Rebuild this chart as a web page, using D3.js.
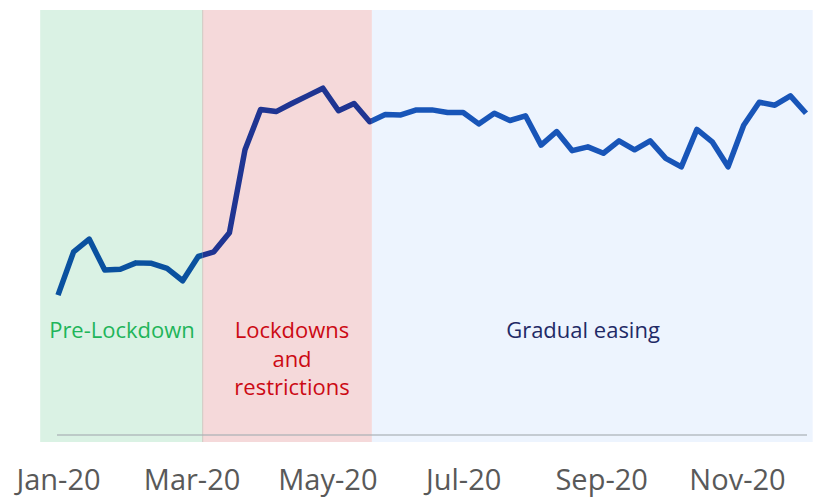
<!DOCTYPE html>
<html>
<head>
<meta charset="utf-8">
<script src="https://cdn.jsdelivr.net/npm/d3@7"></script>
<style>
  body { margin: 0; background: #fff; }
  svg { display: block; font-family: "Open Sans", "Noto Sans", sans-serif; }
</style>
</head>
<body>
<script>
// DATA //
// weekly index values, first week starting 1 Jan 2020
const firstWeek = '2020-01-01';
const values = [32.9, 43.1, 46.1, 38.8, 39.0, 40.5, 40.4, 39.2, 36.3, 42.0,
    43.1, 47.6, 67.1, 76.6, 76.1, 78.0, 79.8, 81.6, 76.3, 78.0,
    73.7, 75.4, 75.3, 76.5, 76.5, 75.9, 75.9, 73.2, 75.7, 74.0,
    75.1, 68.2, 71.4, 66.9, 67.8, 66.3, 69.2, 67.1, 69.2, 65.1,
    63.1, 71.9, 68.9, 63.1, 72.9, 78.3, 77.6, 79.8, 75.7];

// phases (shaded bands)
const phaseNames = ['Pre-Lockdown', 'Lockdowns\nand\nrestrictions', 'Gradual easing'];
const phaseStarts = ['2019-12-24', '2020-03-06', '2020-05-21'];
const phaseEnds = ['2020-03-06', '2020-05-21', '2020-12-05'];

// tick labels
const tickDates = ['2020-01-01', '2020-03-01', '2020-05-01', '2020-07-01', '2020-09-01', '2020-11-01'];

// STYLE //
const bandColors = ['#daf2e4', '#f5d9da', '#edf4fe'];
const textColors = ['#1fb55a', '#cc0a14', '#1f2a66'];
const lineColors = ['#0a519f', '#1f3592', '#1855b8'];

const width = 817,
    height = 497;

const parse = d3.utcParse('%Y-%m-%d');
const start = parse(firstWeek);
const data = values.map((v, i) => ({ date: d3.utcDay.offset(start, 7 * i), value: v }));

const x = d3.scaleUtc()
    .domain(d3.extent(data, d => d.date))
    .range([58, 806]);

const y = d3.scaleLinear()
    .domain([0, 100])
    .range([435, 10]);

const svg = d3.select('body')
    .append('svg')
    .attr('width', width)
    .attr('height', height);

const phases = phaseNames.map((n, i) => ({
    name: n,
    start: parse(phaseStarts[i]),
    end: parse(phaseEnds[i]),
    band: bandColors[i],
    text: textColors[i],
    line: lineColors[i]
}));

// bands
svg.append('g')
    .selectAll('rect')
    .data(phases)
    .join('rect')
    .attr('x', d => x(d.start))
    .attr('y', 10)
    .attr('width', d => x(d.end) - x(d.start))
    .attr('height', 432)
    .attr('fill', d => d.band);

// thin edge between green and red
svg.append('line')
    .attr('x1', x(phases[1].start)).attr('x2', x(phases[1].start))
    .attr('y1', 10).attr('y2', 442)
    .attr('stroke', '#cfc8c0')
    .attr('stroke-width', 1);

// x axis
const axis = svg.append('g')
    .attr('transform', `translate(0, ${y(0)})`)
    .call(d3.axisBottom(x)
        .tickValues(tickDates.map(parse))
        .tickFormat(d3.utcFormat('%b-%y'))
        .tickSize(0)
        .tickSizeOuter(0)
        .tickPadding(34));

axis.select('.domain')
    .attr('stroke', '#a9afb4')
    .attr('stroke-opacity', 0.6)
    .attr('stroke-width', 2)
    .attr('d', `M${x.range()[0] - 1},0H${x.range()[1] + 1}`);

axis.selectAll('text')
    .attr('fill', '#595959')
    .style('font-size', '29px')
    .style('font-family', '"Open Sans", sans-serif');

// clip each phase so the line changes colour at the band edges
const defs = svg.append('defs');
phases.forEach((p, i) => {
    defs.append('clipPath')
        .attr('id', 'clip' + i)
        .append('rect')
        .attr('x', i === 0 ? 0 : x(p.start))
        .attr('y', 0)
        .attr('width', (i === phases.length - 1 ? width : x(p.end)) - (i === 0 ? 0 : x(p.start)))
        .attr('height', height);
});

const line = d3.line()
    .x(d => x(d.date))
    .y(d => y(d.value));

svg.append('g')
    .selectAll('path')
    .data(phases)
    .join('path')
    .attr('clip-path', (d, i) => `url(#clip${i})`)
    .attr('d', line(data))
    .attr('fill', 'none')
    .attr('stroke', d => d.line)
    .attr('stroke-width', 5.5)
    .attr('stroke-linejoin', 'round');

// phase labels
const labelX = [122, 292, 583];
svg.append('g')
    .selectAll('text')
    .data(phases)
    .join('text')
    .attr('text-anchor', 'middle')
    .attr('fill', d => d.text)
    .style('font-size', '22px')
    .each(function (d, i) {
        d3.select(this)
            .selectAll('tspan')
            .data(d.name.split('\n'))
            .join('tspan')
            .attr('x', labelX[i])
            .attr('y', (t, j) => 338 + j * 28.5)
            .text(t => t);
    });
</script>
</body>
</html>
